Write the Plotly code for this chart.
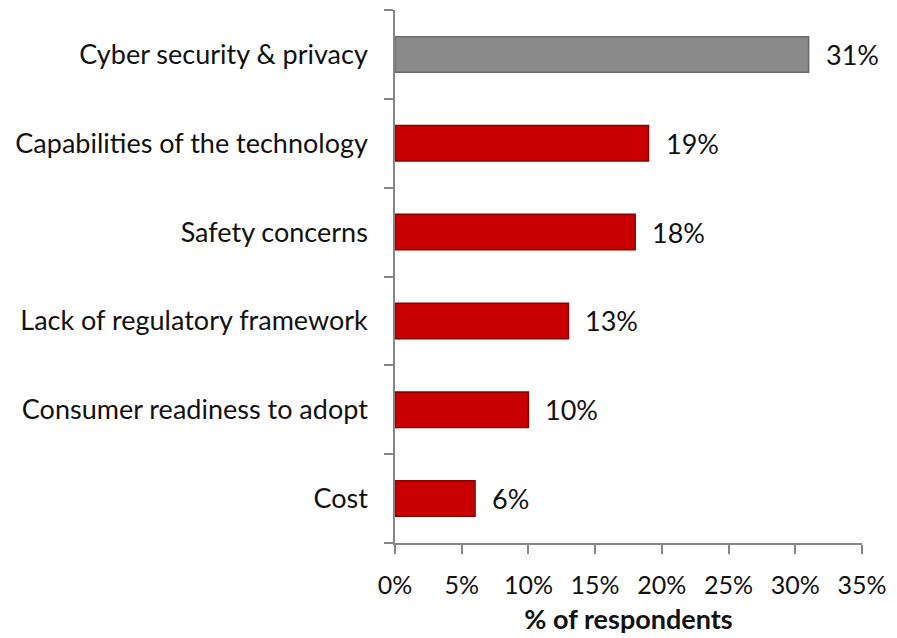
import plotly.graph_objects as go

# Survey results: top concerns, share of respondents
categories = [
    "Cost",
    "Consumer readiness to adopt",
    "Lack of regulatory framework",
    "Safety concerns",
    "Capabilities of the technology",
    "Cyber security & privacy",
]
values = [6, 10, 13, 18, 19, 31]
labels = ["6%", "10%", "13%", "18%", "19%", "31%"]
x_ticks = [0, 5, 10, 15, 20, 25, 30, 35]
x_tick_text = ["0%", "5%", "10%", "15%", "20%", "25%", "30%", "35%"]

RED = "#C80000"
GRAY = "#8A8A8A"
colors = [GRAY if v == max(values) else RED for v in values]
edge = ["#6A6A6A" if v == max(values) else "#880000" for v in values]

FONT = "Lato"
SIZE = 27
AXIS = "#868686"
TEXT = "#111111"

fig = go.Figure(
    go.Bar(
        y=categories,
        x=values,
        orientation="h",
        width=0.4,
        marker=dict(color=colors, line=dict(color=edge, width=1.5)),
        hoverinfo="skip",
    )
)

# value labels just past the end of each bar
for cat, v, lab in zip(categories, values, labels):
    fig.add_annotation(
        x=v,
        y=cat,
        text=lab,
        showarrow=False,
        xanchor="left",
        yanchor="middle",
        xshift=15,
        font=dict(family=FONT, size=SIZE, color=TEXT),
    )

fig.update_layout(
    width=897,
    height=638,
    margin=dict(l=395, r=35, t=10, b=95),
    paper_bgcolor="white",
    plot_bgcolor="white",
    showlegend=False,
    font=dict(family=FONT, size=SIZE, color=TEXT),
)

fig.update_xaxes(
    range=[0, 35],
    tickvals=x_ticks,
    ticktext=x_tick_text,
    automargin=False,
    showgrid=False,
    zeroline=False,
    showline=True,
    linecolor=AXIS,
    linewidth=1.5,
    ticks="outside",
    ticklen=9,
    tickcolor=AXIS,
    tickwidth=1.5,
    ticklabelstandoff=10,
    tickfont=dict(family=FONT, size=25),
    title=dict(
        text="<b>% of respondents</b>",
        font=dict(family=FONT, size=27),
        standoff=12,
    ),
)

fig.update_yaxes(
    automargin=False,
    showgrid=False,
    zeroline=False,
    showline=True,
    linecolor=AXIS,
    linewidth=1.5,
    ticks="outside",
    tickson="boundaries",
    ticklen=9,
    tickcolor=AXIS,
    tickwidth=1.5,
    ticklabelstandoff=20,
    tickfont=dict(family=FONT, size=SIZE),
)

fig.write_html("out.html")
